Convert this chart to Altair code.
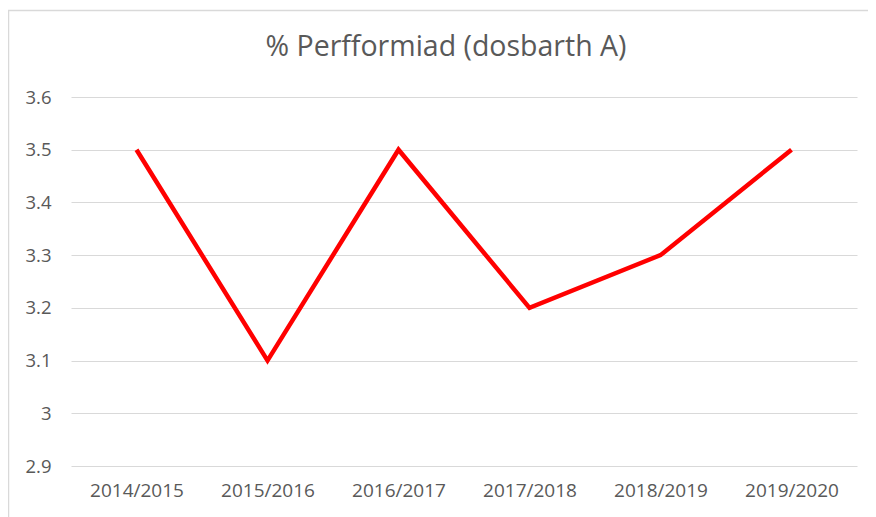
import altair as alt
import pandas as pd

years = ["2014/2015", "2015/2016", "2016/2017", "2017/2018", "2018/2019", "2019/2020"]
values = [3.5, 3.1, 3.5, 3.2, 3.3, 3.5]
y_ticks = [2.9, 3.0, 3.1, 3.2, 3.3, 3.4, 3.5, 3.6]
title_text = "% Perfformiad (dosbarth A)"

df = pd.DataFrame({"year": years, "value": values})

W, H = 786, 369
FONT = "Open Sans"
TXT = "#595959"

line = alt.Chart(df).mark_line(color="#ff0000", strokeWidth=4.5, strokeJoin="miter").encode(
    x=alt.X("year:N", sort=years, title=None,
            scale=alt.Scale(type="point", padding=0.5),
            axis=alt.Axis(domain=False, ticks=False, grid=False, labelAngle=0,
                          labelFont=FONT, labelFontSize=19, labelColor=TXT,
                          labelPadding=15)),
    y=alt.Y("value:Q", title=None,
            scale=alt.Scale(domain=[2.9, 3.6], nice=False, zero=False),
            axis=alt.Axis(values=y_ticks, format=".2~f", domain=False, ticks=False,
                          grid=True, gridColor="#d9d9d9", gridWidth=1,
                          labelFont=FONT, labelFontSize=18.5, labelColor=TXT,
                          labelPadding=20)),
)

border_df = pd.DataFrame({"k": [0]})
top_border = alt.Chart(border_df).mark_rule(color="#d9d9d9", strokeWidth=1.5, clip=False).encode(
    x=alt.value(-63), x2=alt.value(806), y=alt.value(-86.5)
)
left_border = alt.Chart(border_df).mark_rule(color="#d9d9d9", strokeWidth=1.5, clip=False).encode(
    x=alt.value(-62.5), y=alt.value(-87), y2=alt.value(420)
)

chart = alt.layer(top_border, left_border, line).properties(
    width=W, height=H,
    background="white",
    autosize=alt.AutoSizeParams(type="none"),
    padding={"left": 63, "top": 89, "right": 11, "bottom": 51},
    title=alt.TitleParams(text=title_text, font=FONT, fontSize=28.5, fontWeight="normal",
                          color=TXT, anchor="middle", dx=-18, offset=-75,
                          baseline="alphabetic", frame="group"),
).configure_view(stroke=None, strokeWidth=0)

chart.save("out.html", embed_options={"renderer": "svg", "actions": False})
